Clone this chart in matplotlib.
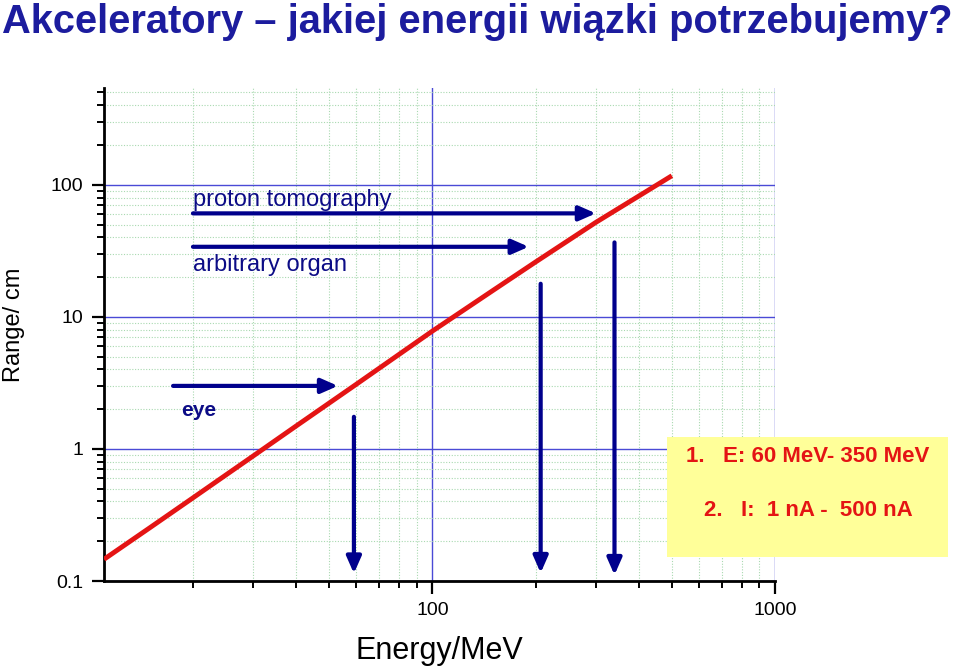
import matplotlib
matplotlib.use("Agg")
import matplotlib.pyplot as plt
from matplotlib.patches import Rectangle
from matplotlib.ticker import FixedLocator, LogLocator, NullFormatter


# proton range in water vs energy
energy_mev = [11, 15, 20, 30, 40, 60, 100, 150, 200, 300, 400, 500]
range_cm = [0.146, 0.254, 0.426, 0.885, 1.49, 3.09, 7.8, 15.8, 26.0, 51.9, 82.0, 117.0]

# horizontal arrows: label, x start, x end, y
h_labels = ["proton tomography", "arbitrary organ", "eye"]
h_x_start = [20, 20, 17.5]
h_x_end = [300, 191, 53]
h_y = [60.7, 33.9, 3.0]
h_text_x = [20, 20, 18.5]
h_text_y = [68.5, 22.4, 1.76]

# vertical arrows (energies of interest)
v_x = [59, 207, 340]
v_top = [1.75, 17.8, 36.6]
v_tip = [0.114, 0.115, 0.111]

y_ticks = [0.1, 1, 10, 100]
y_ticklabels = ["0.1", "1", "10", "100"]
x_ticks = [100, 1000]
x_ticklabels = ["100", "1000"]

box_lines = ["1.   E: 60 MeV- 350 MeV", "2.   I:  1 nA -  500 nA"]

NAVY = "#0c0c86"
ARROW = "#00008c"
RED = "#e41414"

W, H = 960, 666

fig = plt.figure(figsize=(W / 100, H / 100), dpi=100)
fig.patch.set_facecolor("white")

left, right, top, bottom = 104, 775, 88, 581
ax = fig.add_axes([left / W, 1 - bottom / H, (right - left) / W, (bottom - top) / H])
ax.set_xscale("log")
ax.set_yscale("log")
ax.set_xlim(11, 1000)
ax.set_ylim(0.1, 540)

for side in ("top", "right"):
    ax.spines[side].set_visible(False)
for side in ("left", "bottom"):
    ax.spines[side].set_linewidth(2)

ax.xaxis.set_major_locator(FixedLocator(x_ticks))
ax.set_xticklabels(x_ticklabels)
ax.yaxis.set_major_locator(FixedLocator(y_ticks))
ax.set_yticklabels(y_ticklabels)
ax.xaxis.set_minor_locator(LogLocator(base=10, subs=range(2, 10)))
ax.yaxis.set_minor_locator(LogLocator(base=10, subs=range(2, 10)))
ax.xaxis.set_minor_formatter(NullFormatter())
ax.yaxis.set_minor_formatter(NullFormatter())

ax.tick_params(which="major", direction="out", length=9, width=1.6, labelsize=14, pad=6)
ax.tick_params(which="minor", direction="out", length=5, width=1.4)
for lab in ax.get_xticklabels() + ax.get_yticklabels():
    lab.set_fontfamily("Liberation Sans")

ax.grid(which="minor", color="#a9d9b0", linestyle=(0, (1, 1.5)), linewidth=0.8)
ax.grid(which="major", color="#4a4ad6", linestyle="-", linewidth=1.0)
ax.set_axisbelow(True)

ax.plot(energy_mev, range_cm, color=RED, linewidth=3.5, solid_capstyle="butt", zorder=3)

arrow_props = dict(arrowstyle="-|>,head_length=0.5,head_width=0.22",
                   color=ARROW, lw=3, shrinkA=0, shrinkB=0, mutation_scale=20)

for x0, x1, y in zip(h_x_start, h_x_end, h_y):
    ax.annotate("", xy=(x1, y), xytext=(x0, y), arrowprops=arrow_props, zorder=4)

for x, y0, y1 in zip(v_x, v_top, v_tip):
    ax.annotate("", xy=(x, y1), xytext=(x, y0), arrowprops=arrow_props, zorder=4)

for label, tx, ty in zip(h_labels, h_text_x, h_text_y):
    bold = label == "eye"
    ax.text(tx, ty, label, color=NAVY, fontsize=15 if bold else 17,
            fontweight="bold" if bold else "normal",
            family="Liberation Sans", ha="left", va="baseline", zorder=5)

ax.set_xlabel("Energy/MeV", fontsize=22, family="Liberation Sans")
ax.xaxis.set_label_coords(0.5, -0.112)
ax.set_ylabel("Range/ cm", fontsize=17, family="Liberation Sans")
ax.yaxis.set_label_coords(-0.118, 0.52)

# yellow note box, sits over the grid and sticks out of the axes
box = Rectangle((667 / W, 1 - 557 / H), (948 - 667) / W, (557 - 437) / H,
                transform=fig.transFigure, facecolor="#ffff99", edgecolor="none",
                zorder=10)
fig.add_artist(box)
fig.text(686 / W, 1 - 457 / H, box_lines[0], color=RED, fontsize=16,
         fontweight="bold", family="Liberation Sans", ha="left", va="center", zorder=11)
fig.text(704 / W, 1 - 510 / H, box_lines[1], color=RED, fontsize=16,
         fontweight="bold", family="Liberation Sans", ha="left", va="center", zorder=11)

fig.text(2 / W, 1 - 33 / H, "Akceleratory \u2013 jakiej energii wi\u0105zki potrzebujemy?",
         color="#1c1c9e", fontsize=28.7, fontweight="bold", family="Liberation Sans",
         ha="left", va="baseline")

fig.savefig("out.png", dpi=100)
